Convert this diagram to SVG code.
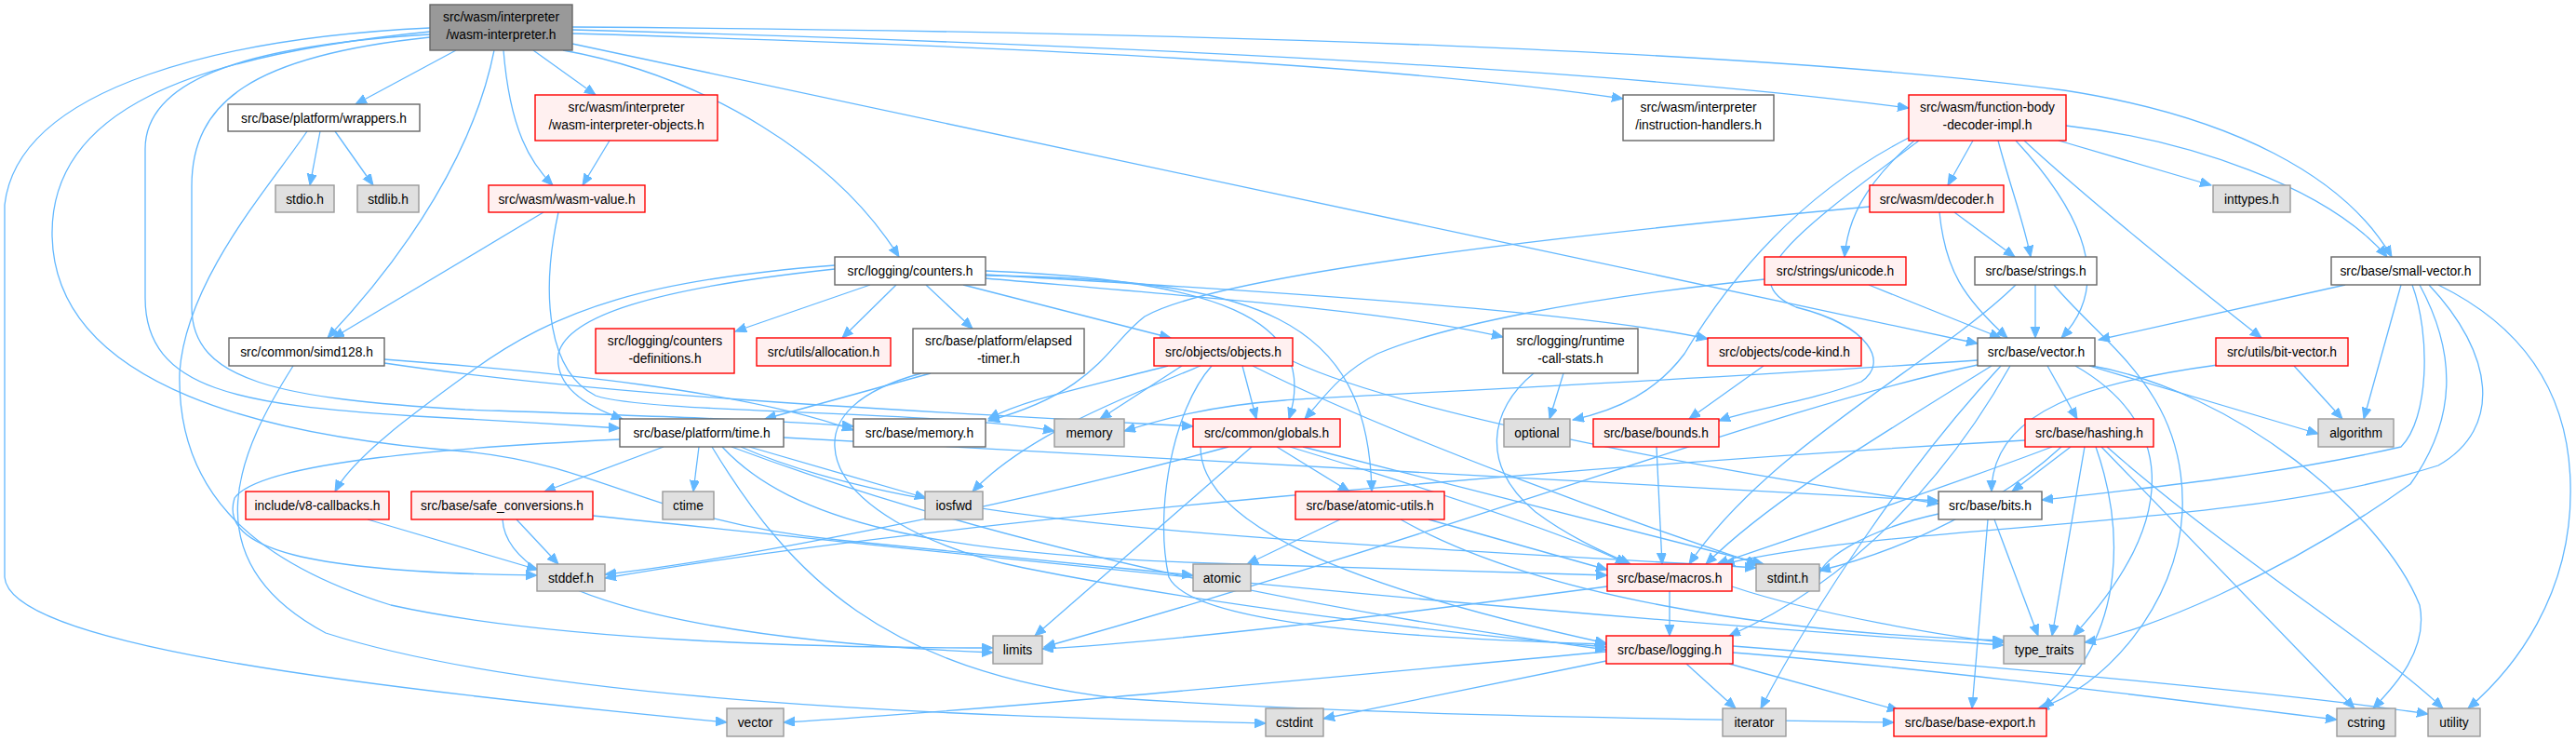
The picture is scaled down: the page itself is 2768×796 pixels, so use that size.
<svg xmlns="http://www.w3.org/2000/svg" width="2768" height="796" viewBox="0 0 2768 796">
<style>
rect{stroke-width:1.4}
.w{fill:#fff;stroke:#666}
.r{fill:#FFF0F0;stroke:#F00}
.g{fill:#E0E0E0;stroke:#999}
.k{fill:#999;stroke:#666}
text{font-family:"Liberation Sans",Arial,sans-serif;font-size:13.8px;fill:#000;text-anchor:middle}
#edges path{fill:none;stroke:#63B8FF;stroke-width:1.3;marker-end:url(#a)}
</style>
<defs>
<marker id="a" markerUnits="userSpaceOnUse" markerWidth="14" markerHeight="12" refX="12" refY="5" orient="auto"><path d="M0,0 L12,5 L0,10 z" fill="#63B8FF" stroke="#63B8FF"/></marker>
</defs>
<rect width="2768" height="796" fill="#fff"/>
<g id="edges">
<path d="M490,54 L382,112"/>
<path d="M531,54 C510,160 440,270 352,363"/>
<path d="M541,54 C548,140 570,175 594,199"/>
<path d="M573,54 L640,102"/>
<path d="M605,54 C760,82 900,170 966,276"/>
<path d="M615,36 C1100,50 1500,70 1744,106"/>
<path d="M615,32 C1100,45 1700,70 2051,116"/>
<path d="M615,29 C1300,34 1900,55 2218,97 C2400,125 2520,190 2570,276"/>
<path d="M615,47 L2125,369"/>
<path d="M462,30 C250,40 20,90 5,220 L5,620 C10,690 350,735 781,776"/>
<path d="M462,34 C200,60 56,120 56,250 C56,420 300,470 500,485 C650,500 700,560 900,580 C1100,600 1200,610 1282,618"/>
<path d="M462,37 C250,50 156,90 156,160 L156,320 C156,420 260,435 446,447 C560,453 620,457 666,460"/>
<path d="M462,40 C270,60 206,110 206,200 L206,330 C206,410 300,428 500,440 C700,447 850,452 917,458"/>
<path d="M344,141 L333,199"/>
<path d="M360,141 L401,199"/>
<path d="M330,141 C290,200 200,300 193,400 C190,520 260,600 420,650 C600,690 900,696 1067,696"/>
<path d="M655,151 L626,199"/>
<path d="M584,228 L358,363"/>
<path d="M600,228 C580,320 590,400 640,425 C700,445 1000,440 1133,463"/>
<path d="M413,386 C600,400 800,420 917,462"/>
<path d="M413,390 C650,425 950,440 1282,458"/>
<path d="M315,393 C260,480 200,600 350,680 C600,760 1100,770 1360,777"/>
<path d="M935,306 L790,356"/>
<path d="M963,306 L905,363"/>
<path d="M995,306 L1045,353"/>
<path d="M1035,306 L1258,363"/>
<path d="M1059,299 C1300,320 1500,335 1615,362"/>
<path d="M1059,295 C1400,315 1700,335 1835,364"/>
<path d="M1059,291 C1300,300 1420,340 1385,450"/>
<path d="M1059,296 C1350,300 1470,340 1474,528"/>
<path d="M897,285 C700,300 600,330 505,400 C450,440 380,490 360,528"/>
<path d="M897,289 C700,310 610,340 600,380 C595,420 640,440 669,450"/>
<path d="M1000,401 L822,450"/>
<path d="M990,401 C920,420 895,450 897,480 C900,540 1000,590 1100,610 C1300,650 1550,680 1726,695"/>
<path d="M1255,393 C1150,420 1100,430 1062,450"/>
<path d="M1270,393 L1182,450"/>
<path d="M1290,393 C1200,430 1100,470 1045,528"/>
<path d="M1335,393 L1350,450"/>
<path d="M1389,388 C1500,440 1800,500 2083,541"/>
<path d="M1302,393 C1260,440 1240,550 1256,620 C1280,670 1500,685 1726,692"/>
<path d="M1346,393 C1500,470 1750,560 1889,606"/>
<path d="M1680,401 L1665,450"/>
<path d="M1648,401 C1600,440 1590,500 1650,550 C1690,580 1735,598 1752,606"/>
<path d="M1895,393 L1815,450"/>
<path d="M1780,480 L1786,606"/>
<path d="M1896,300 C1700,320 1550,350 1480,380 C1440,400 1420,430 1402,450"/>
<path d="M2008,306 L2150,363"/>
<path d="M2100,228 L2165,276"/>
<path d="M2084,228 C2090,290 2110,320 2157,363"/>
<path d="M2009,222 C1600,260 1300,300 1230,340 C1190,370 1180,420 1062,452"/>
<path d="M2125,387 C1800,410 1450,425 1380,430 C1300,436 1250,450 1208,463"/>
<path d="M2120,151 L2093,199"/>
<path d="M2147,151 C2160,200 2175,240 2182,276"/>
<path d="M2166,151 C2230,220 2275,300 2215,363"/>
<path d="M2175,151 C2250,220 2350,300 2430,363"/>
<path d="M2212,151 L2376,199"/>
<path d="M2220,135 C2350,150 2500,200 2565,276"/>
<path d="M2057,151 C2000,200 1985,240 1982,276"/>
<path d="M2051,148 C1950,200 1870,280 1810,380 C1780,420 1740,440 1690,451"/>
<path d="M2062,151 C1930,250 1860,300 1930,330 C2010,350 2030,390 2000,410 C1950,430 1880,440 1847,452"/>
<path d="M2187,306 L2187,363"/>
<path d="M2166,306 C2080,390 1900,480 1815,606"/>
<path d="M2207,306 C2260,370 2350,420 2345,550 C2340,650 2260,740 2190,761"/>
<path d="M2520,306 L2255,365"/>
<path d="M2580,306 L2540,450"/>
<path d="M2592,306 C2612,360 2610,450 2580,480 C2450,510 2300,525 2194,537"/>
<path d="M2600,306 C2640,380 2640,450 2590,520 C2450,620 2300,680 2240,690"/>
<path d="M2620,306 C2710,350 2760,420 2762,520 C2765,640 2700,720 2652,761"/>
<path d="M2610,306 C2680,380 2690,460 2620,500 C2400,570 2050,560 1852,606"/>
<path d="M2200,393 L2232,450"/>
<path d="M2245,393 L2491,466"/>
<path d="M2248,393 C2400,420 2560,550 2600,650 C2610,700 2570,740 2550,761"/>
<path d="M2150,393 C2050,500 1950,650 1892,761"/>
<path d="M2125,392 C1900,440 1600,560 1122,695"/>
<path d="M2140,393 C2000,480 1900,540 1833,606"/>
<path d="M2160,393 C2100,500 2000,620 1858,683"/>
<path d="M2230,393 C2330,450 2350,550 2228,683"/>
<path d="M2383,392 C2250,410 2140,440 2140,528"/>
<path d="M2465,393 L2517,450"/>
<path d="M2225,480 L2162,528"/>
<path d="M2176,473 C1700,500 1000,560 650,621"/>
<path d="M2240,480 L2205,683"/>
<path d="M2252,480 C2280,560 2290,680 2195,761"/>
<path d="M2258,480 L2530,761"/>
<path d="M2264,480 C2400,600 2550,690 2625,761"/>
<path d="M2205,480 C2100,520 1950,570 1845,606"/>
<path d="M2215,480 C2150,540 2050,590 1955,613"/>
<path d="M2143,558 L2190,683"/>
<path d="M2136,558 L2119,761"/>
<path d="M2083,552 C2000,570 1950,605 1955,622"/>
<path d="M751,480 L745,528"/>
<path d="M805,480 L995,535"/>
<path d="M713,480 L585,528"/>
<path d="M765,480 C850,620 950,720 1200,750 C1500,770 1800,772 2035,776"/>
<path d="M776,480 C850,560 1000,595 1300,605 C1500,610 1650,615 1727,618"/>
<path d="M796,480 C1000,570 1400,580 1887,610"/>
<path d="M666,472 C500,480 280,495 252,535 C235,590 330,615 577,618"/>
<path d="M842,470 L2083,538"/>
<path d="M786,480 C1000,560 1300,640 1726,698"/>
<path d="M555,558 L600,606"/>
<path d="M540,558 C545,650 800,690 1067,701"/>
<path d="M637,554 C900,580 1500,650 2153,693"/>
<path d="M395,558 L578,612"/>
<path d="M1320,480 C1100,540 800,600 650,617"/>
<path d="M1345,480 L1112,683"/>
<path d="M1372,480 L1450,528"/>
<path d="M1386,480 C1550,530 1700,580 1748,606"/>
<path d="M1400,480 L1895,606"/>
<path d="M1290,480 C1290,550 1400,620 1726,691"/>
<path d="M1440,558 L1340,606"/>
<path d="M1535,558 L1727,612"/>
<path d="M1505,558 C1650,640 1900,680 2153,688"/>
<path d="M1794,635 L1794,683"/>
<path d="M1727,630 C1500,660 1250,690 1120,697"/>
<path d="M1861,630 C1950,660 2100,685 2153,690"/>
<path d="M1726,700 C1400,730 1100,760 842,776"/>
<path d="M1726,710 L1422,772"/>
<path d="M1812,713 L1865,761"/>
<path d="M1858,713 L2040,763"/>
<path d="M1862,701 C2100,720 2400,760 2511,773"/>
<path d="M1862,694 C2200,720 2500,750 2609,767"/>
</g>
<g id="n0"><rect class="k" x="462" y="5" width="153" height="49"/><text x="538.5" y="23">src/wasm/interpreter</text><text x="538.5" y="42">/wasm-interpreter.h</text></g>
<g id="n1"><rect class="w" x="245" y="112" width="206" height="29"/><text x="348" y="131.5">src/base/platform/wrappers.h</text></g>
<g id="n2"><rect class="r" x="575" y="102" width="196" height="49"/><text x="673" y="120">src/wasm/interpreter</text><text x="673" y="139">/wasm-interpreter-objects.h</text></g>
<g id="n3"><rect class="w" x="1744" y="102" width="162" height="49"/><text x="1825" y="120">src/wasm/interpreter</text><text x="1825" y="139">/instruction-handlers.h</text></g>
<g id="n4"><rect class="r" x="2051" y="102" width="169" height="49"/><text x="2135.5" y="120">src/wasm/function-body</text><text x="2135.5" y="139">-decoder-impl.h</text></g>
<g id="n5"><rect class="g" x="296" y="199" width="63" height="29"/><text x="327.5" y="218.5">stdio.h</text></g>
<g id="n6"><rect class="g" x="384" y="199" width="66" height="29"/><text x="417" y="218.5">stdlib.h</text></g>
<g id="n7"><rect class="r" x="525" y="199" width="168" height="29"/><text x="609" y="218.5">src/wasm/wasm-value.h</text></g>
<g id="n8"><rect class="r" x="2009" y="199" width="144" height="29"/><text x="2081" y="218.5">src/wasm/decoder.h</text></g>
<g id="n9"><rect class="g" x="2378" y="199" width="83" height="29"/><text x="2419.5" y="218.5">inttypes.h</text></g>
<g id="n10"><rect class="w" x="897" y="276" width="162" height="30"/><text x="978" y="296">src/logging/counters.h</text></g>
<g id="n11"><rect class="r" x="1896" y="276" width="152" height="30"/><text x="1972" y="296">src/strings/unicode.h</text></g>
<g id="n12"><rect class="w" x="2122" y="276" width="131" height="30"/><text x="2187.5" y="296">src/base/strings.h</text></g>
<g id="n13"><rect class="w" x="2505" y="276" width="160" height="30"/><text x="2585" y="296">src/base/small-vector.h</text></g>
<g id="n14"><rect class="w" x="246" y="363" width="167" height="30"/><text x="329.5" y="383">src/common/simd128.h</text></g>
<g id="n15"><rect class="r" x="640" y="353" width="149" height="48"/><text x="714.5" y="371">src/logging/counters</text><text x="714.5" y="390">-definitions.h</text></g>
<g id="n16"><rect class="r" x="813" y="363" width="144" height="30"/><text x="885" y="383">src/utils/allocation.h</text></g>
<g id="n17"><rect class="w" x="981" y="353" width="184" height="48"/><text x="1073" y="371">src/base/platform/elapsed</text><text x="1073" y="390">-timer.h</text></g>
<g id="n18"><rect class="r" x="1240" y="363" width="149" height="30"/><text x="1314.5" y="383">src/objects/objects.h</text></g>
<g id="n19"><rect class="w" x="1615" y="353" width="145" height="48"/><text x="1687.5" y="371">src/logging/runtime</text><text x="1687.5" y="390">-call-stats.h</text></g>
<g id="n20"><rect class="r" x="1835" y="363" width="165" height="30"/><text x="1917.5" y="383">src/objects/code-kind.h</text></g>
<g id="n21"><rect class="w" x="2125" y="363" width="126" height="30"/><text x="2188" y="383">src/base/vector.h</text></g>
<g id="n22"><rect class="r" x="2381" y="363" width="142" height="30"/><text x="2452" y="383">src/utils/bit-vector.h</text></g>
<g id="n23"><rect class="w" x="666" y="450" width="176" height="30"/><text x="754" y="470">src/base/platform/time.h</text></g>
<g id="n24"><rect class="w" x="917" y="450" width="142" height="30"/><text x="988" y="470">src/base/memory.h</text></g>
<g id="n25"><rect class="g" x="1133" y="450" width="75" height="30"/><text x="1170.5" y="470">memory</text></g>
<g id="n26"><rect class="r" x="1282" y="450" width="158" height="30"/><text x="1361" y="470">src/common/globals.h</text></g>
<g id="n27"><rect class="g" x="1616" y="450" width="71" height="30"/><text x="1651.5" y="470">optional</text></g>
<g id="n28"><rect class="r" x="1712" y="450" width="135" height="30"/><text x="1779.5" y="470">src/base/bounds.h</text></g>
<g id="n29"><rect class="r" x="2176" y="450" width="138" height="30"/><text x="2245" y="470">src/base/hashing.h</text></g>
<g id="n30"><rect class="g" x="2491" y="450" width="81" height="30"/><text x="2531.5" y="470">algorithm</text></g>
<g id="n31"><rect class="r" x="264" y="528" width="154" height="30"/><text x="341" y="548">include/v8-callbacks.h</text></g>
<g id="n32"><rect class="r" x="442" y="528" width="195" height="30"/><text x="539.5" y="548">src/base/safe_conversions.h</text></g>
<g id="n33"><rect class="g" x="712" y="528" width="55" height="30"/><text x="739.5" y="548">ctime</text></g>
<g id="n34"><rect class="g" x="994" y="528" width="62" height="30"/><text x="1025" y="548">iosfwd</text></g>
<g id="n35"><rect class="r" x="1392" y="528" width="160" height="30"/><text x="1472" y="548">src/base/atomic-utils.h</text></g>
<g id="n36"><rect class="w" x="2083" y="528" width="111" height="30"/><text x="2138.5" y="548">src/base/bits.h</text></g>
<g id="n37"><rect class="g" x="577" y="606" width="73" height="29"/><text x="613.5" y="625.5">stddef.h</text></g>
<g id="n38"><rect class="g" x="1282" y="606" width="62" height="29"/><text x="1313" y="625.5">atomic</text></g>
<g id="n39"><rect class="r" x="1727" y="606" width="134" height="29"/><text x="1794" y="625.5">src/base/macros.h</text></g>
<g id="n40"><rect class="g" x="1887" y="606" width="68" height="29"/><text x="1921" y="625.5">stdint.h</text></g>
<g id="n41"><rect class="g" x="1067" y="683" width="53" height="30"/><text x="1093.5" y="703">limits</text></g>
<g id="n42"><rect class="r" x="1726" y="683" width="136" height="30"/><text x="1794" y="703">src/base/logging.h</text></g>
<g id="n43"><rect class="g" x="2153" y="683" width="87" height="30"/><text x="2196.5" y="703">type_traits</text></g>
<g id="n44"><rect class="g" x="781" y="761" width="61" height="30"/><text x="811.5" y="781">vector</text></g>
<g id="n45"><rect class="g" x="1360" y="761" width="62" height="30"/><text x="1391" y="781">cstdint</text></g>
<g id="n46"><rect class="g" x="1851" y="761" width="68" height="30"/><text x="1885" y="781">iterator</text></g>
<g id="n47"><rect class="r" x="2035" y="761" width="164" height="30"/><text x="2117" y="781">src/base/base-export.h</text></g>
<g id="n48"><rect class="g" x="2511" y="761" width="63" height="30"/><text x="2542.5" y="781">cstring</text></g>
<g id="n49"><rect class="g" x="2609" y="761" width="56" height="30"/><text x="2637" y="781">utility</text></g>
</svg>
